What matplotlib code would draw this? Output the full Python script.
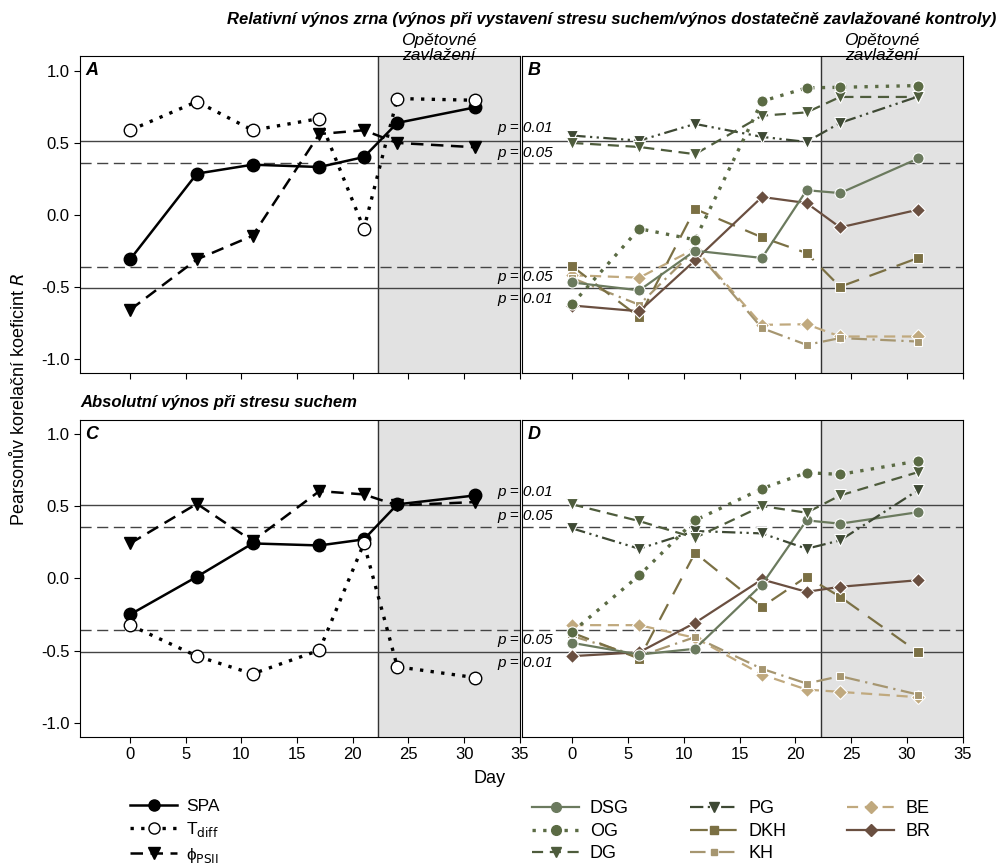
import matplotlib
matplotlib.use('Agg')
import matplotlib.pyplot as plt
from matplotlib.lines import Line2D

plt.rcParams['font.family'] = ['Liberation Sans', 'DejaVu Sans']

days = [0, 6, 11, 17, 21, 24, 31]

# Panel A - relative yield, physiological traits
spa_rel = [-0.31, 0.285, 0.347, 0.331, 0.40, 0.637, 0.745]
tdiff_rel = [0.586, 0.785, 0.586, 0.667, -0.097, 0.806, 0.794]
psii_rel = [-0.66, -0.31, -0.146, 0.56, 0.586, 0.498, 0.468]

# Panel C - absolute yield, physiological traits
spa_abs = [-0.25, 0.012, 0.243, 0.229, 0.271, 0.514, 0.576]
tdiff_abs = [-0.324, -0.539, -0.662, -0.498, 0.243, -0.613, -0.688]
psii_abs = [0.243, 0.518, 0.259, 0.606, 0.583, 0.507, 0.53]

# Panel B - relative yield, leaf segments
dsg_rel = [-0.47, -0.525, -0.25, -0.30, 0.17, 0.15, 0.39]
og_rel = [-0.62, -0.097, -0.174, 0.787, 0.88, 0.884, 0.896]
dg_rel = [0.498, 0.47, 0.42, 0.687, 0.71, 0.817, 0.817]
pg_rel = [0.549, 0.514, 0.63, 0.54, 0.505, 0.637, 0.82]
dkh_rel = [-0.359, -0.71, 0.04, -0.157, -0.266, -0.50, -0.30]
kh_rel = [-0.44, -0.625, -0.243, -0.787, -0.903, -0.856, -0.88]
be_rel = [-0.42, -0.437, -0.236, -0.764, -0.76, -0.845, -0.845]
br_rel = [-0.63, -0.67, -0.317, 0.123, 0.081, -0.088, 0.035]

# Panel D - absolute yield, leaf segments
dsg_abs = [-0.447, -0.528, -0.488, -0.042, 0.403, 0.38, 0.46]
og_abs = [-0.37, 0.021, 0.403, 0.623, 0.734, 0.722, 0.815]
dg_abs = [0.514, 0.398, 0.282, 0.502, 0.456, 0.576, 0.738]
pg_abs = [0.347, 0.206, 0.329, 0.3125, 0.206, 0.264, 0.613]
dkh_abs = [-0.377, -0.556, 0.178, -0.197, 0.012, -0.127, -0.512]
kh_abs = [-0.40, -0.54, -0.407, -0.627, -0.729, -0.678, -0.806]
be_abs = [-0.324, -0.324, -0.412, -0.667, -0.771, -0.787, -0.824]
br_abs = [-0.539, -0.512, -0.308, -0.007, -0.093, -0.058, -0.012]

p01 = 0.51
p05 = 0.36
rewater_start = 22.3

# style per series
phys_style = {
    'SPA': dict(color='black', ls='-', marker='o', ms=9, mfc='black', lw=1.8),
    'Tdiff': dict(color='black', ls=(0, (1, 2.2)), marker='o', ms=9, mfc='white', lw=2.4),
    'PSII': dict(color='black', ls=(0, (5, 3)), marker='v', ms=9, mfc='black', lw=1.8),
}
seg_style = {
    'DSG': dict(color='#6b7a5e', ls='-', marker='o', ms=8, lw=1.6),
    'OG': dict(color='#5b6b44', ls=(0, (1, 2.2)), marker='o', ms=8, lw=2.4),
    'DG': dict(color='#4e5c3c', ls=(0, (5, 3)), marker='v', ms=8, lw=1.6),
    'PG': dict(color='#3e4934', ls=(0, (6, 2, 1, 2, 1, 2)), marker='v', ms=8, lw=1.6),
    'DKH': dict(color='#7b7044', ls=(0, (8, 5)), marker='s', ms=7, lw=1.6),
    'KH': dict(color='#a69670', ls=(0, (7, 2.5, 1, 2.5)), marker='s', ms=6, lw=1.6),
    'BE': dict(color='#c0a97e', ls=(0, (5, 3)), marker='D', ms=7, lw=1.6),
    'BR': dict(color='#6a4f40', ls='-', marker='D', ms=7, lw=1.6),
}

fig = plt.figure(figsize=(10.04, 8.64), dpi=100)
axA = fig.add_axes([0.0797, 0.568, 0.438, 0.367])
axB = fig.add_axes([0.520, 0.568, 0.439, 0.367])
axC = fig.add_axes([0.0797, 0.147, 0.438, 0.367])
axD = fig.add_axes([0.520, 0.147, 0.439, 0.367])


def base(ax, letter, left_labels, bottom_labels, rewater_label):
    ax.set_xlim(-4.5, 35)
    ax.set_ylim(-1.1, 1.1)
    ax.axvspan(rewater_start, 35, color='#e2e2e2', zorder=0)
    ax.axvline(rewater_start, color='#333333', lw=1, zorder=1)
    for y in (p01, -p01):
        ax.axhline(y, color='#444444', lw=1, zorder=1)
    for y in (p05, -p05):
        ax.axhline(y, color='#444444', lw=1, ls=(0, (8, 4)), zorder=1)
    ax.set_xticks(range(0, 36, 5))
    ax.set_yticks([-1.0, -0.5, 0.0, 0.5, 1.0])
    ax.tick_params(direction='out', length=4, labelsize=12)
    if not bottom_labels:
        ax.set_xticklabels([])
    if left_labels:
        ax.set_yticklabels(['-1.0', '-0.5', '0.0', '0.5', '1.0'])
    else:
        ax.set_yticklabels([])
        ax.tick_params(axis='y', length=0)
    ax.text(-4.0, 1.0, letter, fontsize=13, fontweight='bold', fontstyle='italic',
            va='center', ha='left')
    if rewater_label:
        ax.text(27.7, 1.05, 'Opětovné\nzavlažení', fontsize=12.5, fontstyle='italic',
                ha='center', va='bottom', linespacing=1.0, clip_on=False)


base(axA, 'A', True, False, True)
base(axB, 'B', False, False, True)
base(axC, 'C', True, True, False)
base(axD, 'D', False, True, False)

for ax, data in ((axA, (spa_rel, tdiff_rel, psii_rel)), (axC, (spa_abs, tdiff_abs, psii_abs))):
    for name, vals in zip(('PSII', 'SPA', 'Tdiff'), (data[2], data[0], data[1])):
        s = phys_style[name]
        ax.plot(days, vals, color=s['color'], ls=s['ls'], lw=s['lw'], marker=s['marker'],
                ms=s['ms'], mfc=s['mfc'], mec='black', mew=1, zorder=3)

rel = dict(DSG=dsg_rel, OG=og_rel, DG=dg_rel, PG=pg_rel, DKH=dkh_rel, KH=kh_rel, BE=be_rel, BR=br_rel)
absl = dict(DSG=dsg_abs, OG=og_abs, DG=dg_abs, PG=pg_abs, DKH=dkh_abs, KH=kh_abs, BE=be_abs, BR=br_abs)
for ax, data in ((axB, rel), (axD, absl)):
    for name in ['BE', 'KH', 'DKH', 'BR', 'DSG', 'PG', 'DG', 'OG']:
        s = seg_style[name]
        ax.plot(days, data[name], color=s['color'], ls=s['ls'], lw=s['lw'], marker=s['marker'],
                ms=s['ms'], mfc=s['color'], mec='white', mew=0.8, zorder=3)

# significance labels straddling the A/B and C/D boundary
for ax in (axB, axD):
    for y, lab in ((0.60, 'p = 0.01'), (0.43, 'p = 0.05'), (-0.43, 'p = 0.05'), (-0.585, 'p = 0.01')):
        ax.text(-6.7, y, lab, fontsize=11, fontstyle='italic', ha='left', va='center',
                clip_on=False, zorder=5)

fig.text(0.609, 0.977, 'Relativní výnos zrna (výnos při vystavení stresu suchem/výnos dostatečně zavlažované kontroly)',
         fontsize=12, fontweight='bold', fontstyle='italic', ha='center', va='center')
fig.text(0.0797, 0.534, 'Absolutní výnos při stresu suchem', fontsize=12, fontweight='bold',
         fontstyle='italic', ha='left', va='center')
fig.text(0.018, 0.537, 'Pearsonův korelační koeficint $\\it{R}$', fontsize=13, rotation=90,
         ha='center', va='center')
fig.text(0.488, 0.099, 'Day', fontsize=13, ha='center', va='center')

# legends
phys_handles = []
for name, lab in (('SPA', 'SPA'), ('Tdiff', 'T$_{\\mathrm{diff}}$'), ('PSII', 'ϕ$_{\\mathrm{PSII}}$')):
    s = phys_style[name]
    phys_handles.append(Line2D([], [], color=s['color'], ls=s['ls'], lw=s['lw'], marker=s['marker'],
                               ms=s['ms'] - 1, mfc=s['mfc'], mec='black', label=lab))
fig.legend(handles=phys_handles, loc='upper left', bbox_to_anchor=(0.121, 0.085), frameon=False,
           fontsize=12.5, handlelength=2.7, handletextpad=0.5, labelspacing=0.35, borderpad=0)

seg_handles = []
for name in ['DSG', 'OG', 'DG', 'PG', 'DKH', 'KH', 'BE', 'BR']:
    s = seg_style[name]
    seg_handles.append(Line2D([], [], color=s['color'], ls=s['ls'], lw=s['lw'], marker=s['marker'],
                              ms=s['ms'] - 1, mfc=s['color'], mec=s['color'], label=name))
fig.legend(handles=seg_handles, loc='upper left', bbox_to_anchor=(0.521, 0.084), frameon=False,
           fontsize=13, ncol=3, handlelength=2.6, handletextpad=0.6, labelspacing=0.3,
           columnspacing=3.4, borderpad=0)

fig.savefig('out.png', dpi=100)
